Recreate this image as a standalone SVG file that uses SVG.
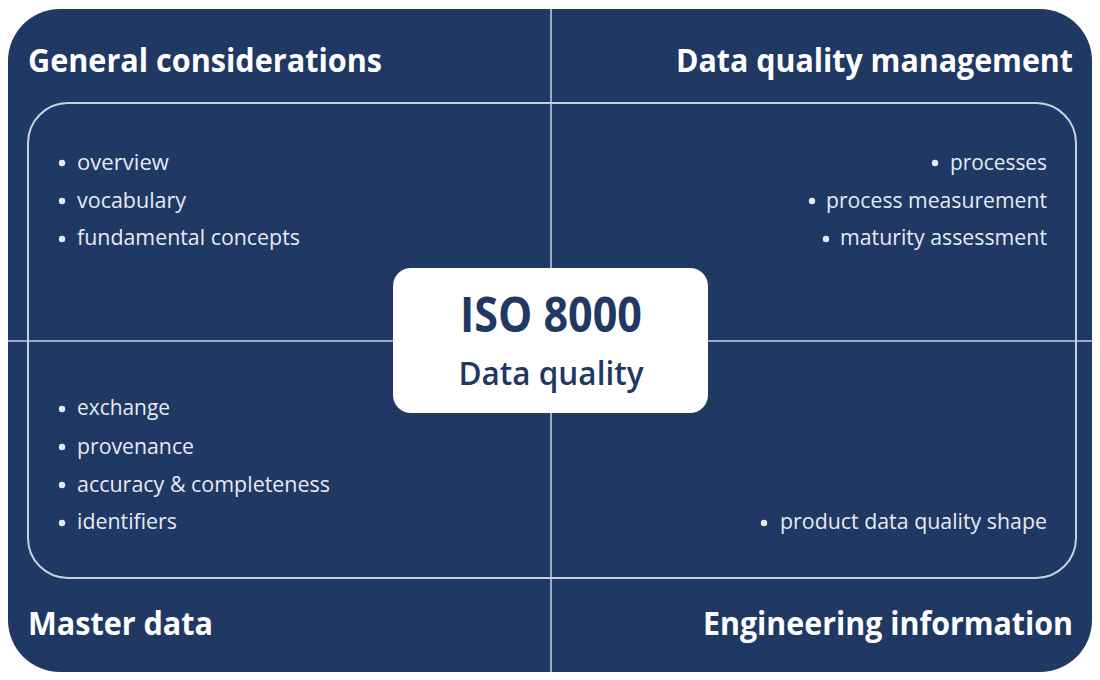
<svg xmlns="http://www.w3.org/2000/svg" width="1100" height="680" viewBox="0 0 1100 680">
  <style>
    .panel { fill: #1f3864; }
    .frame { fill: none; stroke: #c9d1e0; stroke-width: 2; }
    .divider { stroke: #c9d1e0; stroke-width: 1.5; }
    .title { font-family: "Open Sans", "Liberation Sans", sans-serif; font-weight: bold; font-size: 32px; fill: #ffffff; }
    .item { font-family: "Open Sans", "Liberation Sans", sans-serif; font-size: 21px; fill: #e6eaf2; }
    .dot { fill: #e6eaf2; }
    .core { fill: #ffffff; }
    .core-title { font-family: "Open Sans", "Liberation Sans", sans-serif; font-weight: bold; font-size: 48px; fill: #1f3864; }
    .core-sub { font-family: "Open Sans", "Liberation Sans", sans-serif; font-weight: 600; font-size: 33px; fill: #1f3864; }
  </style>

  <!-- background panel -->
  <rect class="panel" x="8" y="9" width="1084" height="663" rx="52" ry="52"/>

  <!-- quadrant dividers and inner frame -->
  <g id="connectors">
    <line class="divider" x1="551" y1="9" x2="551" y2="672"/>
    <line class="divider" x1="8" y1="341" x2="1092" y2="341"/>
    <rect class="frame" x="28" y="103" width="1048" height="475" rx="40" ry="40"/>
  </g>

  <g id="general-considerations">
    <text class="title" x="28" y="72" textLength="354" lengthAdjust="spacingAndGlyphs">General considerations</text>
    <circle class="dot" cx="62" cy="163" r="3.2"/>
    <text class="item" x="77" y="170" textLength="92" lengthAdjust="spacingAndGlyphs">overview</text>
    <circle class="dot" cx="62" cy="201" r="3.2"/>
    <text class="item" x="77" y="208" textLength="109" lengthAdjust="spacingAndGlyphs">vocabulary</text>
    <circle class="dot" cx="62" cy="239" r="3.2"/>
    <text class="item" x="77" y="245" textLength="223" lengthAdjust="spacingAndGlyphs">fundamental concepts</text>
  </g>

  <g id="data-quality-management">
    <text class="title" x="1073" y="72" text-anchor="end" textLength="397" lengthAdjust="spacingAndGlyphs">Data quality management</text>
    <circle class="dot" cx="935" cy="163" r="3.2"/>
    <text class="item" x="1047" y="170" text-anchor="end" textLength="97" lengthAdjust="spacingAndGlyphs">processes</text>
    <circle class="dot" cx="812" cy="201" r="3.2"/>
    <text class="item" x="1047" y="208" text-anchor="end" textLength="221" lengthAdjust="spacingAndGlyphs">process measurement</text>
    <circle class="dot" cx="826" cy="239" r="3.2"/>
    <text class="item" x="1047" y="245" text-anchor="end" textLength="207" lengthAdjust="spacingAndGlyphs">maturity assessment</text>
  </g>

  <g id="master-data">
    <circle class="dot" cx="62" cy="409" r="3.2"/>
    <text class="item" x="77" y="415" textLength="93" lengthAdjust="spacingAndGlyphs">exchange</text>
    <circle class="dot" cx="62" cy="447" r="3.2"/>
    <text class="item" x="77" y="454" textLength="117" lengthAdjust="spacingAndGlyphs">provenance</text>
    <circle class="dot" cx="62" cy="485" r="3.2"/>
    <text class="item" x="77" y="492" textLength="253" lengthAdjust="spacingAndGlyphs">accuracy &amp; completeness</text>
    <circle class="dot" cx="62" cy="523" r="3.2"/>
    <text class="item" x="77" y="529" textLength="100" lengthAdjust="spacingAndGlyphs">identifiers</text>
    <text class="title" x="28" y="635" textLength="185" lengthAdjust="spacingAndGlyphs">Master data</text>
  </g>

  <g id="engineering-information">
    <circle class="dot" cx="764" cy="523" r="3.2"/>
    <text class="item" x="1047" y="529" text-anchor="end" textLength="267" lengthAdjust="spacingAndGlyphs">product data quality shape</text>
    <text class="title" x="1073" y="635" text-anchor="end" textLength="370" lengthAdjust="spacingAndGlyphs">Engineering information</text>
  </g>

  <g id="iso-8000">
    <rect class="core" x="393" y="268" width="315" height="145" rx="18" ry="18"/>
    <text class="core-title" x="551" y="332" text-anchor="middle" textLength="182" lengthAdjust="spacingAndGlyphs">ISO 8000</text>
    <text class="core-sub" x="551" y="385" text-anchor="middle" textLength="185" lengthAdjust="spacingAndGlyphs">Data quality</text>
  </g>
</svg>
